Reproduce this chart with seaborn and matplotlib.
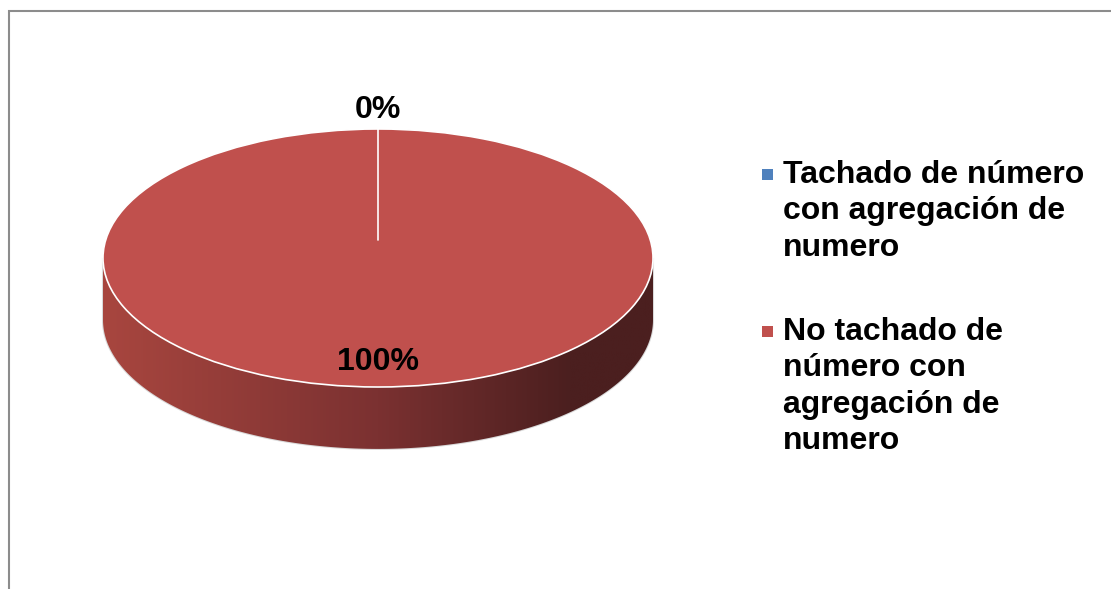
import numpy as np
import matplotlib
matplotlib.use("Agg")
import matplotlib.pyplot as plt
import seaborn as sns
from matplotlib.patches import Polygon, Rectangle
from matplotlib.colors import LinearSegmentedColormap

# data
categories = ["Tachado de número\ncon agregación de\nnumero",
              "No tachado de\nnúmero con\nagregación de\nnumero"]
values = [0, 100]
colors = ["#4f81bd", "#c0504d"]

sns.set_theme(style="white")
plt.rcParams["font.family"] = ["Liberation Sans", "DejaVu Sans"]

W, H = 1111, 589
fig = plt.figure(figsize=(W / 100, H / 100), dpi=100)
ax = fig.add_axes([0, 0, 1, 1])

# pie geometry in pixels (centre, semi axes, depth)
cx, cy = 378, 258
rx, ry = 275, 129
depth = 0.48
start = 90

# side of the cylinder with a gradient
t = np.linspace(np.pi, 2 * np.pi, 200)
top_arc = np.column_stack([np.cos(t), np.sin(t)])
bot_arc = np.column_stack([np.cos(t[::-1]), np.sin(t[::-1]) - depth])
side = Polygon(np.vstack([top_arc, bot_arc]), closed=True,
               facecolor="none", edgecolor="#d9d9d9", lw=1.5, zorder=1)
ax.add_patch(side)
cmap = LinearSegmentedColormap.from_list(
    "side", [(0, "#a8463f"), (0.5, "#7b3131"), (0.85, "#4b1f1f"), (1, "#4b1f1f")])
grad = ax.imshow(np.linspace(0, 1, 256)[None, :], cmap=cmap, aspect="auto",
                 extent=[-1, 1, -1 - depth, 0], zorder=1.5)
grad.set_clip_path(side)

# top face
wedges, texts, autotexts = ax.pie(
    values, colors=colors, startangle=start, counterclock=False,
    autopct="%1.0f%%", pctdistance=0.81,
    wedgeprops=dict(edgecolor="white", linewidth=1.2),
    textprops=dict(fontsize=23, fontweight="bold", color="black"))
for w in wedges:
    w.set_zorder(2)
for a in autotexts:
    a.set_zorder(3)
autotexts[0].set_position((0, 1.15))

# slice boundary line at the start angle
a0 = np.deg2rad(start)
ax.plot([0.14 * np.cos(a0), np.cos(a0)], [0.14 * np.sin(a0), np.sin(a0)],
        color="white", lw=1.2, zorder=2.5)

ax.set_aspect("auto")
ax.set_xlim(-cx / rx, (W - cx) / rx)
ax.set_ylim(-(H - cy) / ry, cy / ry)
ax.axis("off")

# legend
leg_tops = [160, 317]
for lab, col, yt in zip(categories, colors, leg_tops):
    fig.patches.append(Rectangle((762 / W, 1 - (yt + 20) / H), 11 / W, 11 / H,
                                 transform=fig.transFigure, facecolor=col,
                                 edgecolor="none"))
    fig.text(783 / W, 1 - yt / H, lab, ha="left", va="top", fontsize=23,
             fontweight="bold", color="black", linespacing=1.28)

# chart frame
fig.patches.append(Rectangle((8.5 / W, -0.1), 2, 1 - 10.5 / H + 0.1,
                             transform=fig.transFigure, facecolor="none",
                             edgecolor="#8c8c8c", lw=1.5))

fig.savefig("out.png", dpi=100)
